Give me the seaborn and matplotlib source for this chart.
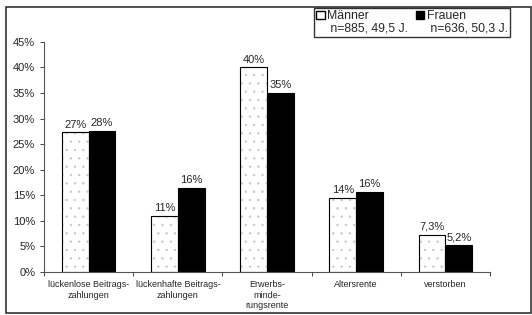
import numpy as np
import pandas as pd
import matplotlib as mpl
import matplotlib.pyplot as plt
import seaborn as sns
from matplotlib.patches import Patch, Rectangle

# data
categories = ["lückenlose Beitrags-\nzahlungen", "lückenhafte Beitrags-\nzahlungen",
              "Erwerbs-\nminde-\nrungsrente", "Altersrente", "verstorben"]
maenner = [27.3, 10.9, 40.0, 14.4, 7.3]
frauen = [27.6, 16.4, 35.0, 15.7, 5.2]
maenner_lbl = ["27%", "11%", "40%", "14%", "7,3%"]
frauen_lbl = ["28%", "16%", "35%", "16%", "5,2%"]
groups = ["Männer", "Frauen"]
legend_sub = ["n=885, 49,5 J.", "n=636, 50,3 J."]

df = pd.DataFrame({
    "cat": categories * 2,
    "val": maenner + frauen,
    "grp": ["Männer"] * 5 + ["Frauen"] * 5,
})

sns.set_style("white")
plt.rcParams["font.family"] = ["Liberation Sans", "DejaVu Sans"]
plt.rcParams["hatch.linewidth"] = 0.5

fig = plt.figure(figsize=(5.32, 3.15), dpi=100)
ax = fig.add_axes([0.083, 0.137, 0.838, 0.73])

sns.barplot(data=df, x="cat", y="val", hue="grp", ax=ax,
            palette={"Männer": "white", "Frauen": "black"},
            width=0.6, gap=0, edgecolor="black", linewidth=0.8,
            legend=False, saturation=1)

# light stipple for the men's bars, outline redrawn in black on top
for p in ax.patches[:5]:
    p.set_hatch("..")
    p.set_edgecolor("#c8c8c8")
    ax.add_patch(Rectangle(p.get_xy(), p.get_width(), p.get_height(),
                           fill=False, edgecolor="black", linewidth=0.8))

for cont, lbls in zip(ax.containers, [maenner_lbl, frauen_lbl]):
    ax.bar_label(cont, labels=lbls, padding=2, fontsize=8)

ax.set_ylim(0, 45)
ax.set_xlim(-0.5, 4.5)
ax.set_yticks(np.arange(0, 46, 5))
ax.set_yticklabels([f"{v}%" for v in range(0, 46, 5)], fontsize=8)
ax.set_xticks(np.arange(-0.5, 5, 1), minor=True)
ax.tick_params(axis="x", which="major", length=0, labelsize=6.5, pad=6)
ax.tick_params(axis="x", which="minor", length=3, width=0.6, direction="out", bottom=True)
ax.tick_params(axis="y", length=3, width=0.6, direction="out", left=True)
ax.set_xlabel("")
ax.set_ylabel("")
for s in ["top", "right"]:
    ax.spines[s].set_visible(False)
for s in ["left", "bottom"]:
    ax.spines[s].set_color("#555555")
    ax.spines[s].set_linewidth(0.8)

# outer frame
fig.patches.append(Rectangle((6 / 532, 2 / 315), 525 / 532, 306 / 315,
                             transform=fig.transFigure, fill=False,
                             edgecolor="#333333", linewidth=1.2))

# legend: two columns, sample size line under each label
handles = [Patch(facecolor="white", edgecolor="black"), Patch(alpha=0),
           Patch(facecolor="black", edgecolor="black"), Patch(alpha=0)]
labels = [groups[0], " " + legend_sub[0], groups[1], " " + legend_sub[1]]
fig.legend(handles, labels, ncol=2, loc="upper right",
           bbox_to_anchor=(510 / 532, 1 - 8 / 315), fontsize=8.8,
           frameon=True, fancybox=False, edgecolor="black",
           handlelength=0.7, handleheight=0.7, handletextpad=0.2,
           columnspacing=0.6, labelspacing=0.0, borderpad=0.2,
           borderaxespad=0)

fig.savefig("out.png", dpi=100)
